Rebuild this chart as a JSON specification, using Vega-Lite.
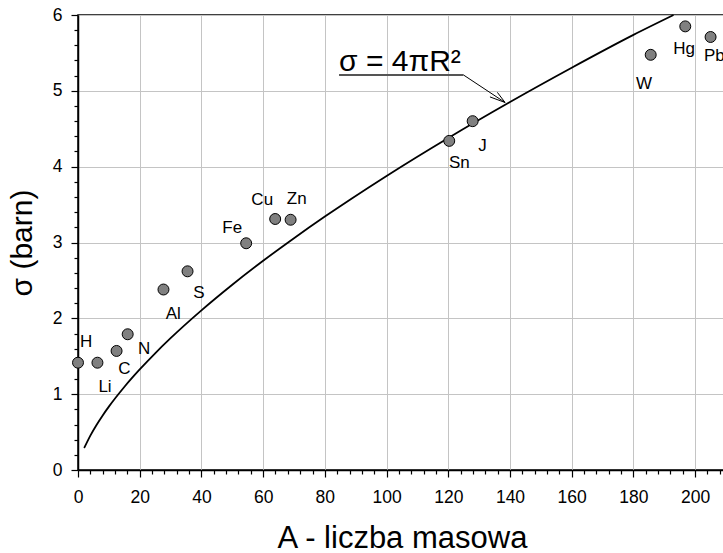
{
  "$schema": "https://vega.github.io/schema/vega-lite/v6.json",
  "autosize": "none",
  "width": 648,
  "height": 455,
  "padding": {"left": 78, "top": 15, "right": 0, "bottom": 83},
  "background": "white",
  "config": {
    "font": "Liberation Sans",
    "view": {"stroke": "black", "strokeWidth": 1.5},
    "axis": {
      "domainColor": "black",
      "domainWidth": 1.5,
      "tickColor": "black",
      "tickWidth": 1.2,
      "labelColor": "black",
      "labelFont": "Liberation Sans",
      "labelFontSize": 17.5,
      "titleFont": "Liberation Sans",
      "titleFontWeight": "normal",
      "titleColor": "black",
      "gridColor": "#c4c4c4",
      "gridWidth": 1
    }
  },
  "datasets": {
    "curve": [
      {"A": 2, "s": 0.29},
      {"A": 4, "s": 0.454},
      {"A": 6, "s": 0.594},
      {"A": 8, "s": 0.72},
      {"A": 10, "s": 0.836},
      {"A": 15, "s": 1.095},
      {"A": 20, "s": 1.326},
      {"A": 25, "s": 1.539},
      {"A": 30, "s": 1.738},
      {"A": 40, "s": 2.105},
      {"A": 50, "s": 2.443},
      {"A": 60, "s": 2.759},
      {"A": 70, "s": 3.057},
      {"A": 80, "s": 3.342},
      {"A": 100, "s": 3.878},
      {"A": 120, "s": 4.379},
      {"A": 140, "s": 4.853},
      {"A": 160, "s": 5.305},
      {"A": 180, "s": 5.738},
      {"A": 193, "s": 6.0}
    ],
    "points": [
      {"el": "H", "A": 0, "s": 1.415},
      {"el": "Li", "A": 6.3, "s": 1.415},
      {"el": "C", "A": 12.5, "s": 1.57},
      {"el": "N", "A": 16.1, "s": 1.79},
      {"el": "Al", "A": 27.7, "s": 2.38},
      {"el": "S", "A": 35.5, "s": 2.62},
      {"el": "Fe", "A": 54.5, "s": 2.99},
      {"el": "Cu", "A": 63.9, "s": 3.31},
      {"el": "Zn", "A": 68.9, "s": 3.3},
      {"el": "Sn", "A": 120.3, "s": 4.34},
      {"el": "J", "A": 127.9, "s": 4.6},
      {"el": "W", "A": 185.6, "s": 5.475},
      {"el": "Hg", "A": 196.8, "s": 5.85},
      {"el": "Pb", "A": 205, "s": 5.71}
    ],
    "labels": [
      {"el": "H", "A": 2.6, "s": 1.685},
      {"el": "Li", "A": 8.75, "s": 1.1},
      {"el": "C", "A": 15.0, "s": 1.33},
      {"el": "N", "A": 21.4, "s": 1.6},
      {"el": "Al", "A": 30.9, "s": 2.06},
      {"el": "S", "A": 39.2, "s": 2.34},
      {"el": "Fe", "A": 50.0, "s": 3.19},
      {"el": "Cu", "A": 59.7, "s": 3.56},
      {"el": "Zn", "A": 70.9, "s": 3.57},
      {"el": "Sn", "A": 123.6, "s": 4.05},
      {"el": "J", "A": 131.1, "s": 4.27},
      {"el": "W", "A": 183.4, "s": 5.085},
      {"el": "Hg", "A": 196.4, "s": 5.55},
      {"el": "Pb", "A": 206.2, "s": 5.46}
    ],
    "formula": [
      {"t": "σ = 4πR²", "A": 84.6, "s": 5.268}
    ],
    "underline": [
      {"A": 84.6, "s": 5.21, "A2": 124.9, "s2": 5.21}
    ],
    "arrow": [
      {"A": 124.9, "s": 5.21, "A2": 138.4, "s2": 4.846},
      {"A": 133.5, "s": 4.92, "A2": 138.4, "s2": 4.846},
      {"A": 135.9, "s": 4.98, "A2": 138.4, "s2": 4.846}
    ]
  },
  "encoding": {
    "x": {
      "field": "A",
      "type": "quantitative",
      "scale": {"domain": [0, 210], "nice": false, "zero": false},
      "axis": {
        "title": "A - liczba masowa",
        "titleFontSize": 31,
        "titleAlign": "center",
        "titleBaseline": "alphabetic",
        "titleX": 324,
        "titleY": 77,
        "values": [0,4,8,12,16,20,24,28,32,36,40,44,48,52,56,60,64,68,72,76,80,84,88,92,96,100,104,108,112,116,120,124,128,132,136,140,144,148,152,156,160,164,168,172,176,180,184,188,192,196,200,204,208],
        "labelExpr": "datum.value % 20 === 0 ? datum.label : ''",
        "tickSize": {"condition": {"test": "datum.value % 20 === 0", "value": 7}, "value": 4},
        "gridOpacity": {"condition": {"test": "datum.value % 20 === 0", "value": 1}, "value": 0},
        "labelPadding": 11,
        "labelFlush": false,
        "labelOverlap": false
      }
    },
    "y": {
      "field": "s",
      "type": "quantitative",
      "scale": {"domain": [0, 6], "nice": false},
      "axis": {
        "title": "σ (barn)",
        "titleFontSize": 30,
        "titleAlign": "center",
        "titleBaseline": "alphabetic",
        "titleAngle": -90,
        "titleX": -47,
        "titleY": 227.5,
        "values": [0,0.2,0.4,0.6,0.8,1,1.2,1.4,1.6,1.8,2,2.2,2.4,2.6,2.8,3,3.2,3.4,3.6,3.8,4,4.2,4.4,4.6,4.8,5,5.2,5.4,5.6,5.8,6],
        "labelExpr": "abs(datum.value - round(datum.value)) < 0.001 ? format(datum.value, 'd') : ''",
        "tickSize": {"condition": {"test": "abs(datum.value - round(datum.value)) < 0.001", "value": 7}, "value": 4},
        "gridOpacity": {"condition": {"test": "abs(datum.value - round(datum.value)) < 0.001", "value": 1}, "value": 0},
        "labelPadding": 9,
        "labelFlush": false,
        "labelOverlap": false
      }
    }
  },
  "layer": [
    {
      "data": {"name": "curve"},
      "mark": {"type": "line", "color": "black", "strokeWidth": 1.8, "interpolate": "monotone"}
    },
    {
      "data": {"name": "points"},
      "mark": {"type": "circle", "size": 120, "fill": "#808080", "fillOpacity": 1, "stroke": "black", "strokeWidth": 1}
    },
    {
      "data": {"name": "labels"},
      "mark": {"type": "text", "fontSize": 17, "align": "center", "baseline": "middle", "color": "black"},
      "encoding": {"text": {"field": "el"}}
    },
    {
      "data": {"name": "formula"},
      "mark": {"type": "text", "fontSize": 30, "align": "left", "baseline": "alphabetic", "color": "black"},
      "encoding": {"text": {"field": "t"}}
    },
    {
      "data": {"name": "underline"},
      "mark": {"type": "rule", "color": "#555555", "strokeWidth": 2},
      "encoding": {"x2": {"field": "A2"}, "y2": {"field": "s2"}}
    },
    {
      "data": {"name": "arrow"},
      "mark": {"type": "rule", "color": "black", "strokeWidth": 1},
      "encoding": {"x2": {"field": "A2"}, "y2": {"field": "s2"}}
    }
  ]
}
